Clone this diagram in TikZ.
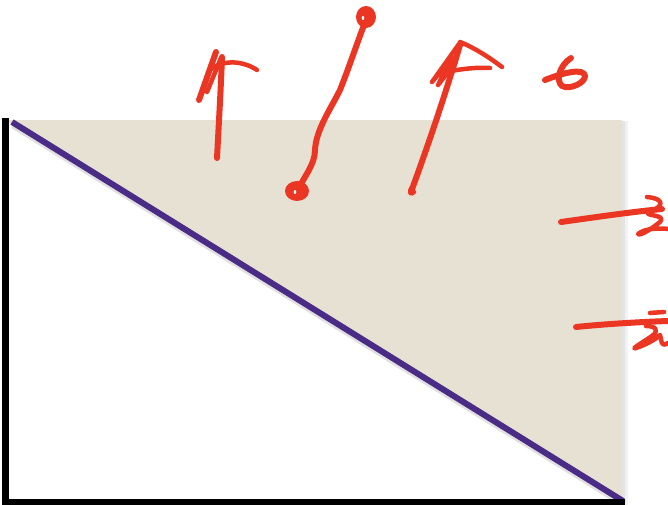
\documentclass[tikz,border=0pt]{standalone}
\definecolor{inkred}{RGB}{236,54,36}
\definecolor{sheet}{RGB}{230,225,211}
\definecolor{diag}{RGB}{74,44,134}
\begin{document}
\begin{tikzpicture}[x=1pt,y=-1pt,
  beigefill/.style={fill=sheet},
  purpleline/.style={draw=diag,line width=6pt,line cap=butt},
  blackline/.style={draw=black,line width=6.5pt},
  ink/.style={draw=inkred,line width=6pt,line cap=round,line join=round},
  thinink/.style={ink,line width=4.5pt},
  dot/.style={fill=inkred}]
\useasboundingbox (0,0) rectangle (668,505);
% shadow of the beige sheet
\fill[black,opacity=0.05] (10,121) rectangle (628,505);
\fill[black,opacity=0.06] (10,121) rectangle (625,503);
% beige sheet
\path[beigefill] (8,120) rectangle (622,500);
% white lower-left triangle
\fill[white] (8,122) -- (622,500) -- (8,500) -- cycle;
% purple diagonal with faint shadow
\coordinate (dA) at (12,122);
\coordinate (dB) at (623,501);
\draw[black,opacity=0.12,line width=7pt] ([shift={(1,3)}]dA) -- ([shift={(1,3)}]dB);
\draw[purpleline] (dA) -- (dB);
% black axes
\coordinate (o) at (5.5,502);
\coordinate (ytop) at (5.5,118);
\coordinate (xend) at (625,502);
\draw[blackline] (ytop) -- (o) -- (xend);
% arrow 1 (left)
\draw[ink] (217,158) .. controls (219,120) and (221,85) .. (222,57);
\draw[ink] (216,52) -- (199,100);
\draw[thinink] (221,58) -- (207,92);
\draw[thinink] (210,70) .. controls (225,58) and (245,62) .. (257,70);
% arrow 2 (middle, with dots)
\draw[ink] (298,190) .. controls (303,178) and (315,165) .. (315,150)
  .. controls (316,130) and (330,110) .. (340,90)
  .. controls (350,65) and (358,40) .. (366,20);
\fill[dot] (297,191) ellipse (12pt and 10pt);
\fill[dot] (366,17) ellipse (10pt and 11pt);
\fill[white] (295,192) ellipse (1.3pt and 2pt);
\fill[white] (363,18) ellipse (1.3pt and 2pt);
% arrow 3
\draw[ink] (411,192) .. controls (430,140) and (445,95) .. (460,45);
\draw[thinink] (413,186) .. controls (408,192) and (410,196) .. (414,192);
\draw[thinink] (460,42) .. controls (475,48) and (490,58) .. (502,67);
\draw[thinink] (459,44) -- (432,82) -- (452,58) -- (438,85) -- (456,62);
\draw[thinink] (446,72) .. controls (460,69) and (478,67) .. (490,68);
% "6"-like mark
\draw[ink] (571,58) .. controls (560,65) and (555,80) .. (562,86)
  .. controls (570,90) and (585,83) .. (585,76)
  .. controls (584,68) and (565,72) .. (545,80);
% right arrow 1
\draw[ink] (561,222) .. controls (590,218) and (630,212) .. (662,209);
\draw[thinink] (647,197) .. controls (660,198) and (668,204) .. (650,212)
  .. controls (640,216) and (668,214) .. (660,222)
  .. controls (650,230) and (640,236) .. (638,234)
  .. controls (645,228) and (660,228) .. (668,229);
% right arrow 2
\draw[ink] (576,327) .. controls (605,324) and (640,322) .. (668,321);
\draw[thinink] (650,313) -- (664,312);
\draw[thinink] (646,326) .. controls (655,326) and (660,330) .. (652,336)
  .. controls (640,344) and (630,350) .. (636,348)
  .. controls (645,345) and (655,340) .. (660,335)
  .. controls (662,340) and (660,348) .. (668,343);
\end{tikzpicture}
\end{document}
